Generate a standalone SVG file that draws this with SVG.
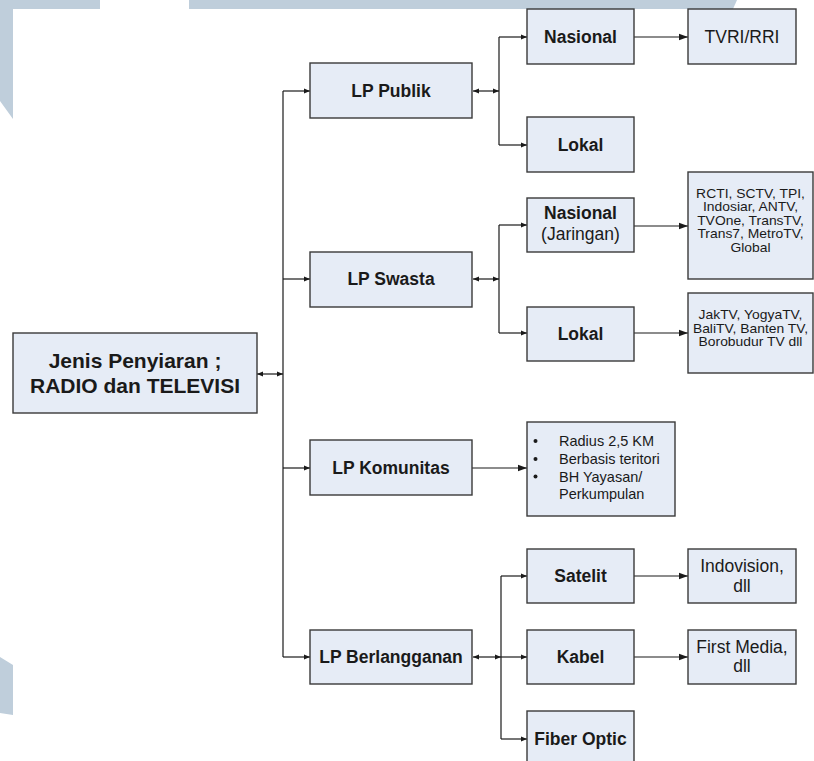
<svg xmlns="http://www.w3.org/2000/svg" width="814" height="761" viewBox="0 0 814 761">
<defs>
<style>
.bg{fill:#ffffff}
.wm{fill:#bfcedb}
.box{fill:#e6ecf6;stroke:#3a3a3a;stroke-width:1.4}
.c{fill:none;stroke:#1a1a1a;stroke-width:1.2}
.t{font-family:"Liberation Sans",Arial,sans-serif;fill:#1a1a1a;text-anchor:middle}
.b{font-weight:bold;font-size:17.5px}
.r{font-size:17.5px}
.s{font-size:12.4px}
.k{font-size:14.5px;text-anchor:start}
</style>
<marker id="sa" viewBox="0 0 6 6" refX="6" refY="3" markerWidth="6" markerHeight="6" markerUnits="userSpaceOnUse" orient="auto-start-reverse">
<path d="M0,0.6 L6,3 L0,5.4 Z" fill="#1a1a1a"/>
</marker>
<marker id="la" viewBox="0 0 9 8" refX="9" refY="4" markerWidth="9" markerHeight="8" markerUnits="userSpaceOnUse" orient="auto">
<path d="M0,0.8 L9,4 L0,7.2 Z" fill="#1a1a1a"/>
</marker>
</defs>
<rect class="bg" x="0" y="0" width="814" height="761"/>
<g id="watermark">
<polygon class="wm" points="0,0 100,0 100,9 13,9 13,119 0,101"/>
<polygon class="wm" points="189,0 737,0 733,9 189,9"/>
<polygon class="wm" points="0,657 13,665 13,715 0,713"/>
</g>
<g id="connectors">
<line class="c" x1="257" y1="374" x2="283" y2="374" marker-start="url(#sa)" marker-end="url(#sa)"/>
<line class="c" x1="283" y1="91" x2="283" y2="657"/>
<line class="c" x1="283" y1="91" x2="310" y2="91" marker-end="url(#sa)"/>
<line class="c" x1="283" y1="279" x2="310" y2="279" marker-end="url(#sa)"/>
<line class="c" x1="283" y1="468" x2="310" y2="468" marker-end="url(#sa)"/>
<line class="c" x1="283" y1="657" x2="310" y2="657" marker-end="url(#sa)"/>
<line class="c" x1="473" y1="91" x2="499" y2="91" marker-start="url(#sa)" marker-end="url(#sa)"/>
<line class="c" x1="499" y1="37" x2="499" y2="145"/>
<line class="c" x1="499" y1="37" x2="527" y2="37" marker-end="url(#sa)"/>
<line class="c" x1="499" y1="145" x2="527" y2="145" marker-end="url(#sa)"/>
<line class="c" x1="473" y1="279" x2="499" y2="279" marker-start="url(#sa)" marker-end="url(#sa)"/>
<line class="c" x1="499" y1="225" x2="499" y2="333"/>
<line class="c" x1="499" y1="225" x2="527" y2="225" marker-end="url(#sa)"/>
<line class="c" x1="499" y1="333" x2="527" y2="333" marker-end="url(#sa)"/>
<line class="c" x1="473" y1="657" x2="501" y2="657" marker-start="url(#sa)" marker-end="url(#sa)"/>
<line class="c" x1="501" y1="576" x2="501" y2="739"/>
<line class="c" x1="501" y1="576" x2="527" y2="576" marker-end="url(#sa)"/>
<line class="c" x1="501" y1="657" x2="527" y2="657" marker-end="url(#sa)"/>
<line class="c" x1="501" y1="739" x2="527" y2="739" marker-end="url(#sa)"/>
<line class="c" x1="634" y1="37" x2="688" y2="37" marker-end="url(#la)"/>
<line class="c" x1="634" y1="226" x2="688" y2="226" marker-end="url(#la)"/>
<line class="c" x1="634" y1="333" x2="688" y2="333" marker-end="url(#la)"/>
<line class="c" x1="472" y1="468" x2="527" y2="468" marker-end="url(#la)"/>
<line class="c" x1="634" y1="576" x2="688" y2="576" marker-end="url(#la)"/>
<line class="c" x1="634" y1="657" x2="688" y2="657" marker-end="url(#la)"/>
</g>
<g id="root">
<rect class="box" x="13" y="333" width="244" height="80"/>
<text class="t" x="135" y="368" style="font-weight:bold;font-size:21px">Jenis Penyiaran ;</text>
<text class="t" x="135" y="393" style="font-weight:bold;font-size:21px">RADIO dan TELEVISI</text>
</g>
<g id="lp-publik">
<rect class="box" x="310" y="63" width="162" height="55"/>
<text class="t b" x="391" y="97">LP Publik</text>
</g>
<g id="publik-nasional">
<rect class="box" x="527" y="9" width="107" height="55"/>
<text class="t b" x="580.5" y="43">Nasional</text>
</g>
<g id="tvri">
<rect class="box" x="688" y="9" width="108" height="55"/>
<text class="t r" x="742" y="43">TVRI/RRI</text>
</g>
<g id="publik-lokal">
<rect class="box" x="527" y="117" width="107" height="55"/>
<text class="t b" x="580.5" y="151">Lokal</text>
</g>
<g id="lp-swasta">
<rect class="box" x="310" y="252" width="162" height="55"/>
<text class="t b" x="391" y="285">LP Swasta</text>
</g>
<g id="swasta-nasional">
<rect class="box" x="527" y="198" width="107" height="54"/>
<text class="t b" x="580.5" y="219">Nasional</text>
<text class="t r" x="580.5" y="240">(Jaringan)</text>
</g>
<g id="rcti">
<rect class="box" x="688" y="172" width="125" height="107"/>
<text class="t s" transform="translate(750.5,198) scale(1.12,1)">RCTI, SCTV, TPI,</text>
<text class="t s" transform="translate(750.5,211.4) scale(1.12,1)">Indosiar, ANTV,</text>
<text class="t s" transform="translate(750.5,224.8) scale(1.12,1)">TVOne, TransTV,</text>
<text class="t s" transform="translate(750.5,238.2) scale(1.12,1)">Trans7, MetroTV,</text>
<text class="t s" transform="translate(750.5,251.6) scale(1.12,1)">Global</text>
</g>
<g id="swasta-lokal">
<rect class="box" x="527" y="307" width="107" height="54"/>
<text class="t b" x="580.5" y="340">Lokal</text>
</g>
<g id="jaktv">
<rect class="box" x="688" y="293" width="125" height="80"/>
<text class="t s" transform="translate(750.5,319.3) scale(1.12,1)">JakTV, YogyaTV,</text>
<text class="t s" transform="translate(750.5,332.7) scale(1.12,1)">BaliTV, Banten TV,</text>
<text class="t s" transform="translate(750.5,346) scale(1.12,1)">Borobudur TV dll</text>
</g>
<g id="lp-komunitas">
<rect class="box" x="310" y="440" width="162" height="55"/>
<text class="t b" x="391" y="474">LP Komunitas</text>
</g>
<g id="komunitas-detail">
<rect class="box" x="527" y="422" width="148" height="94"/>
<circle cx="535.5" cy="441" r="2" fill="#1a1a1a"/>
<circle cx="535.5" cy="459" r="2" fill="#1a1a1a"/>
<circle cx="535.5" cy="476.5" r="2" fill="#1a1a1a"/>
<text class="t k" x="559" y="446">Radius 2,5 KM</text>
<text class="t k" x="559" y="464">Berbasis teritori</text>
<text class="t k" x="559" y="481.5">BH Yayasan/</text>
<text class="t k" x="559" y="499.2">Perkumpulan</text>
</g>
<g id="lp-berlangganan">
<rect class="box" x="310" y="630" width="162" height="54"/>
<text class="t b" x="391" y="663">LP Berlangganan</text>
</g>
<g id="satelit">
<rect class="box" x="527" y="549" width="107" height="54"/>
<text class="t b" x="580.5" y="582">Satelit</text>
</g>
<g id="indovision">
<rect class="box" x="688" y="549" width="108" height="54"/>
<text class="t r" x="742" y="572">Indovision,</text>
<text class="t r" x="742" y="591.5">dll</text>
</g>
<g id="kabel">
<rect class="box" x="527" y="630" width="107" height="54"/>
<text class="t b" x="580.5" y="663">Kabel</text>
</g>
<g id="firstmedia">
<rect class="box" x="688" y="630" width="108" height="54"/>
<text class="t r" x="742" y="653">First Media,</text>
<text class="t r" x="742" y="672">dll</text>
</g>
<g id="fiber">
<rect class="box" x="527" y="711" width="107" height="56"/>
<text class="t b" x="580.5" y="745">Fiber Optic</text>
</g>
</svg>
